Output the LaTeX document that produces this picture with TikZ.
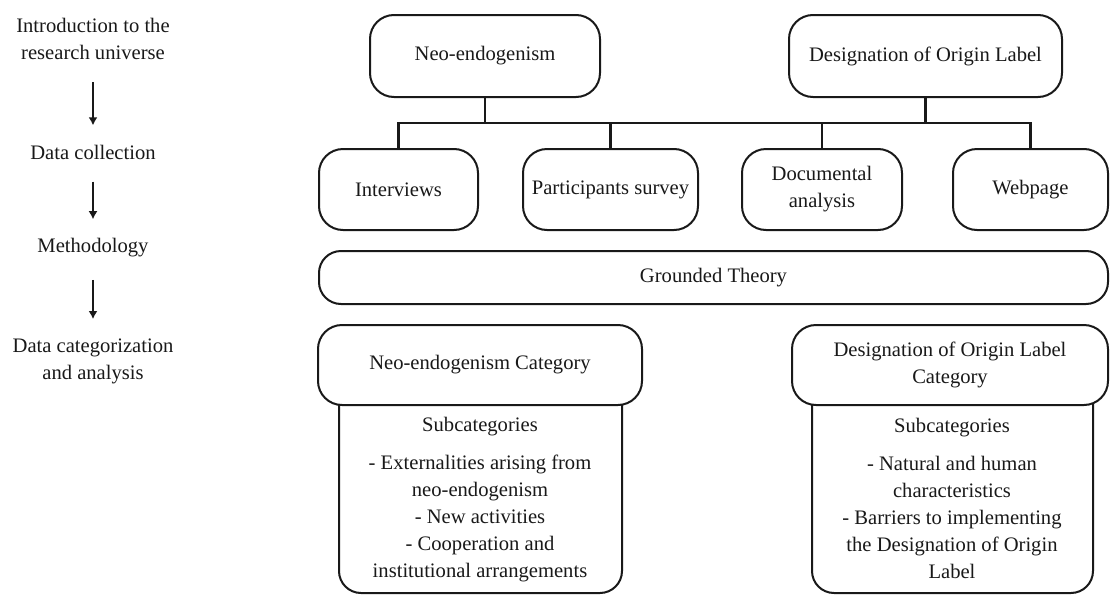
\documentclass[tikz,border=0pt]{standalone}
\usepackage{fontspec}
\setmainfont{Liberation Serif}
\usepackage{tikz}
\usetikzlibrary{arrows.meta,fit,positioning}
\definecolor{inkblack}{RGB}{25,25,25}
\tikzset{
  stagelabel/.style={align=center,inner sep=0pt,text=inkblack},
  stageflow/.style={-{Latex[length=4pt,width=4.5pt]},line width=1.1pt,draw=inkblack,
    shorten <=11pt,shorten >=9.5pt},
  roundbox/.style={draw=inkblack,line width=1pt,rounded corners=12pt,fill=white,
    align=center,inner sep=0pt,text=inkblack},
  sourcebox/.style={roundbox,minimum height=40.5pt},
  bodybox/.style={draw=inkblack,line width=1pt,rounded corners=11pt,fill=white,inner sep=0pt},
  sublist/.style={align=center,inner sep=0pt,text=inkblack},
  branch/.style={line width=1.1pt,draw=inkblack}
}

\begin{document}
\begin{tikzpicture}[x=0.5pt,y=-0.5pt,font=\fontsize{10.3}{13.5}\selectfont]
  \useasboundingbox (0,0) rectangle (1110,595);
  % research stages
  \node[stagelabel] (intro) at (93,39) {Introduction to the\\research universe};
  \node[stagelabel] (collect) at (93,152) {Data collection};
  \node[stagelabel] (method) at (93,248) {Methodology};
  \node[stagelabel] (analyse) at (93,361) {Data categorization\\and analysis};
  \draw[stageflow] (intro) -- (collect);
  \draw[stageflow] (collect) -- (method);
  \draw[stageflow] (method) -- (analyse);
  % theory and sources
  \node[roundbox,minimum width=115pt,minimum height=41pt] (neo) at (485,56) {Neo-endogenism};
  \node[roundbox,minimum width=136.5pt,minimum height=41pt] (dol) at (925.5,56) {Designation of Origin Label};
  \node[sourcebox,minimum width=79.5pt] (intv) at (398.5,189.5) {Interviews};
  \node[sourcebox,minimum width=87.5pt] (surv) at (610.5,189.5) {Participants survey};
  \node[sourcebox,minimum width=80pt] (docu) at (822,189.5) {Documental\\analysis};
  \node[sourcebox,minimum width=77.5pt] (webp) at (1030.5,189.5) {Webpage};
  \coordinate (bus) at (713,123);
  \draw[branch] (neo.south) -- (neo.south |- bus);
  \draw[branch] (dol.south) -- (dol.south |- bus);
  \draw[branch] (intv.north) |- (webp.north |- bus) -- (webp.north);
  \draw[branch] (surv.north) -- (surv.north |- bus);
  \draw[branch] (docu.north) -- (docu.north |- bus);
  \node[roundbox,rounded corners=11pt,minimum width=394.5pt,minimum height=26.5pt] (gt) at (713.5,277.5) {Grounded Theory};
  % categories
  \node[bodybox,fit={(339,380) (622,593)}] (neobody) {};
  \node[bodybox,fit={(812,380) (1093,593)}] (dolbody) {};
  \node[roundbox,minimum width=162pt,minimum height=40pt] (neocat) at (480,365) {Neo-endogenism Category};
  \node[roundbox,minimum width=158pt,minimum height=40pt] (dolcat) at (950,365) {Designation of Origin Label\\Category};
  \node[sublist] (neosub) at (480,500) {Subcategories\\[5.5pt]- Externalities arising from\\neo-endogenism\\- New activities\\- Cooperation and\\institutional arrangements};
  \node[sublist] (dolsub) at (952,498) {Subcategories\\[5.5pt]- Natural and human\\characteristics\\- Barriers to implementing\\the Designation of Origin\\Label};
\end{tikzpicture}
\end{document}
